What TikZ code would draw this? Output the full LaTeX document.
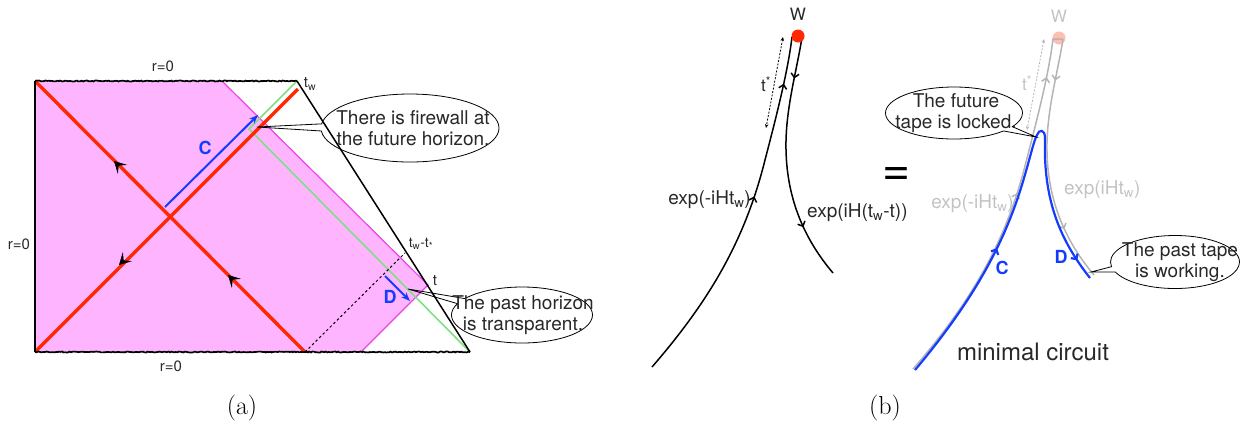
\documentclass[tikz,border=0pt]{standalone}
\usepackage{fontspec}
\setmainfont{TeX Gyre Heros}
\usetikzlibrary{shapes.geometric,shapes.callouts,arrows.meta,decorations.pathmorphing,decorations.markings}
\definecolor{pinkfill}{RGB}{255,180,255}
\definecolor{magline}{RGB}{232,70,232}
\definecolor{redl}{RGB}{255,40,0}
\definecolor{greenl}{RGB}{128,224,128}
\definecolor{bluel}{RGB}{20,60,255}
\definecolor{txt}{RGB}{40,40,40}
\definecolor{grayl}{RGB}{180,180,180}
\definecolor{graytxt}{RGB}{195,195,195}
\newcommand\fsz[2]{\fontsize{#1}{#2}\selectfont}
\begin{document}
\begin{tikzpicture}[x=1pt,y=-1pt,
  lbl/.style={text=txt, font=\fsz{15}{18}, inner sep=0},
  bubble/.style={ellipse callout, draw, line width=0.8pt, inner sep=0, callout pointer arc=12},
  bubtext/.style={text=txt, font=\fsz{19}{21}, align=center, inner sep=0},
  jag/.style={line width=1.7pt, decorate, decoration={random steps, segment length=1.5pt, amplitude=0.5pt}},
  redline/.style={redl, line width=3.4pt},
  blarrow/.style={bluel, line width=2pt, -{Stealth[length=9pt,width=7pt]}},
  barb/.style={black, line width=0.6pt, -{Stealth[length=12pt,width=13pt,inset=5.5pt]}},
  tape/.style={line width=1.5pt},
  midup/.style 2 args={postaction={decorate, decoration={markings, mark=at position #1 with {\arrow[#2]{Straight Barb[length=4pt,width=8pt]}}}}},
]
\useasboundingbox (0,0) rectangle (1241,424);

% ---------------- panel (a) ----------------
\coordinate (TL) at (35,81);
\coordinate (TR) at (297,81);
\coordinate (BL) at (35,352);
\coordinate (BR) at (470,352);
\coordinate (RB) at (305,352);
\coordinate (RT) at (298,89);
\coordinate (M1) at (222,81);
\coordinate (M2) at (428,285);
\coordinate (M3) at (361,352);
\coordinate (G1) at (249,129);

\fill[pinkfill] (TL) -- (M1) -- (M2) -- (M3) -- (BL) -- cycle;
\draw[magline, line width=1.2pt] (M1) -- (M2) -- (M3);
\draw[greenl, line width=1.6pt] (TR) -- (G1) -- (BR);
\draw[redline] (TL) -- (RB);
\draw[redline] (BL) -- (RT);
\coordinate (A1) at (114,161);
\coordinate (A2) at (228,275);
\coordinate (A3) at (119,265);
\draw[barb] (A1) ++(4,4) -- (A1);
\draw[barb] (A2) ++(4,4) -- (A2);
\draw[barb] (A3) ++(4,-4) -- (A3);
\draw[line width=1.5pt] (TL) -- (BL);
\draw[line width=1.5pt] (TR) -- (BR);
\draw[jag] (TL) -- (TR);
\draw[jag] (BL) -- (BR);
\coordinate (DT) at (405,253);
\draw[dash pattern=on 2.5pt off 2.5pt, line width=1pt] (RB) -- (DT);

\coordinate (C0) at (165,207);
\coordinate (C1) at (258,115);
\draw[blarrow] (C0) -- (C1);
\node[text=bluel, font=\fsz{18}{20}\bfseries] (Clab) at (205,148) {C};
\coordinate (D0) at (385,276);
\coordinate (D1) at (410,301);
\draw[blarrow] (D0) -- (D1);
\node[text=bluel, font=\fsz{18}{20}\bfseries] (Dlab) at (390,297) {D};

\node[lbl] (rtop) at (163,66) {r=0};
\node[lbl] (rleft) at (19,244) {r=0};
\node[lbl] (rbot) at (171,366) {r=0};
\node[lbl, font=\fsz{15}{18}] (tw) at (310,84) {t\textsubscript{w}};
\node[lbl, font=\fsz{14}{16}] (twts) at (421,244) {t\textsubscript{w}-t\textsubscript{*}};
\node[lbl, font=\fsz{15}{18}] (tl) at (435,281) {t};

\node[bubble, minimum width=178pt, minimum height=68pt, callout absolute pointer={(257,127)}] (fw) at (410,128) {};
\node[bubtext] (fwt) at (413,128) {There is firewall at\\the future horizon.};
\node[bubble, minimum width=141pt, minimum height=56pt, callout absolute pointer={(408,289)}] (ph) at (522,315) {};
\node[bubtext] (pht) at (523,315) {The past horizon\\is transparent.};

\node[font=\fsz{26}{28}, inner sep=0] (la) at (242,408) {\fontspec{Latin Modern Roman}(a)};

% ---------------- panel (b) ----------------
\draw[tape, midup={0.55}{black}, midup={0.87}{black}]
  (652,367) .. controls (710,300) and (745,240) .. (765,160) .. controls (778,110) and (788,70) .. (792,37);
\draw[tape, midup={0.17}{black}, midup={0.78}{black}]
  (802,37) .. controls (797,70) and (785,110) .. (786,150) .. controls (787,200) and (805,240) .. (833,273);
\fill[redl] (798,36) circle (6.5pt);
\node[lbl, font=\fsz{17}{20}] (W1) at (798,14) {W};
\draw[dash pattern=on 2pt off 1.5pt, line width=0.8pt, {Stealth[length=4pt,width=3.5pt]}-{Stealth[length=4pt,width=3.5pt]}] (783,37) -- (766,128);
\node[lbl, font=\fsz{17}{20}] (ts1) at (766,84) {t\textsuperscript{*}};
\node[lbl, font=\fsz{19}{22}, anchor=east] (e1) at (751,200) {exp(-iHt\textsubscript{w})};
\node[lbl, font=\fsz{19}{22}, anchor=west] (e2) at (807,213) {exp(iH(t\textsubscript{w}-t))};

\node[text=black, font=\fsz{48}{48}, inner sep=0] (eq) at (897,176) {=};

\begin{scope}[shift={(261,2)}]
\fill[redl, opacity=0.3] (798,36) circle (6.5pt);
\draw[tape, grayl, midup={0.55}{grayl}, midup={0.87}{grayl}]
  (652,367) .. controls (710,300) and (745,240) .. (765,160) .. controls (778,110) and (788,70) .. (792,37) -- (802,37);
\draw[tape, grayl, midup={0.17}{grayl}, midup={0.78}{grayl}]
  (802,37) .. controls (797,70) and (785,110) .. (786,150) .. controls (787,200) and (805,240) .. (833,273);
\draw[grayl, dash pattern=on 2pt off 1.5pt, line width=0.8pt, {Stealth[length=4pt,width=3.5pt]}-{Stealth[length=4pt,width=3.5pt]}] (783,37) -- (766,128);
\end{scope}
\node[text=graytxt, font=\fsz{17}{20}, inner sep=0] (W2) at (1059,16) {W};
\node[text=graytxt, font=\fsz{17}{20}, inner sep=0] (ts2) at (1027,83) {t\textsuperscript{*}};
\node[text=graytxt, font=\fsz{19}{22}, inner sep=0, anchor=east] (e3) at (1014,204) {exp(-iHt\textsubscript{w})};
\node[text=graytxt, font=\fsz{19}{22}, inner sep=0, anchor=west] (e4) at (1064,190) {exp(iHt\textsubscript{w})};

\draw[bluel, line width=2.2pt, midup={0.34}{bluel}, midup={0.95}{bluel}]
  (915,370) .. controls (972,302) and (1005,244) .. (1024,178) .. controls (1030,158) and (1034,140) .. (1037,135)
  .. controls (1039,129) and (1045,129) .. (1045,138) .. controls (1043,200) and (1060,240) .. (1090,278);
\node[text=bluel, font=\fsz{18}{20}\bfseries, inner sep=0] (C2) at (1002,268) {C};
\node[text=bluel, font=\fsz{18}{20}\bfseries, inner sep=0] (D2) at (1061,257) {D};
\node[text=txt, font=\fsz{24}{26}, inner sep=0] (mc) at (1033,352) {minimal circuit};

\node[bubble, minimum width=137pt, minimum height=52pt, callout absolute pointer={(1036,137)}] (lock) at (954,113) {};
\node[bubtext] (lockt) at (956,113) {The future\\tape is locked.};
\node[bubble, minimum width=129pt, minimum height=53pt, callout absolute pointer={(1091,272)}] (work) at (1175,262) {};
\node[bubtext] (workt) at (1180,262) {The past tape\\is working.};

\node[font=\fsz{26}{28}, inner sep=0] (lb) at (885,408) {\fontspec{Latin Modern Roman}(b)};
\end{tikzpicture}
\end{document}
